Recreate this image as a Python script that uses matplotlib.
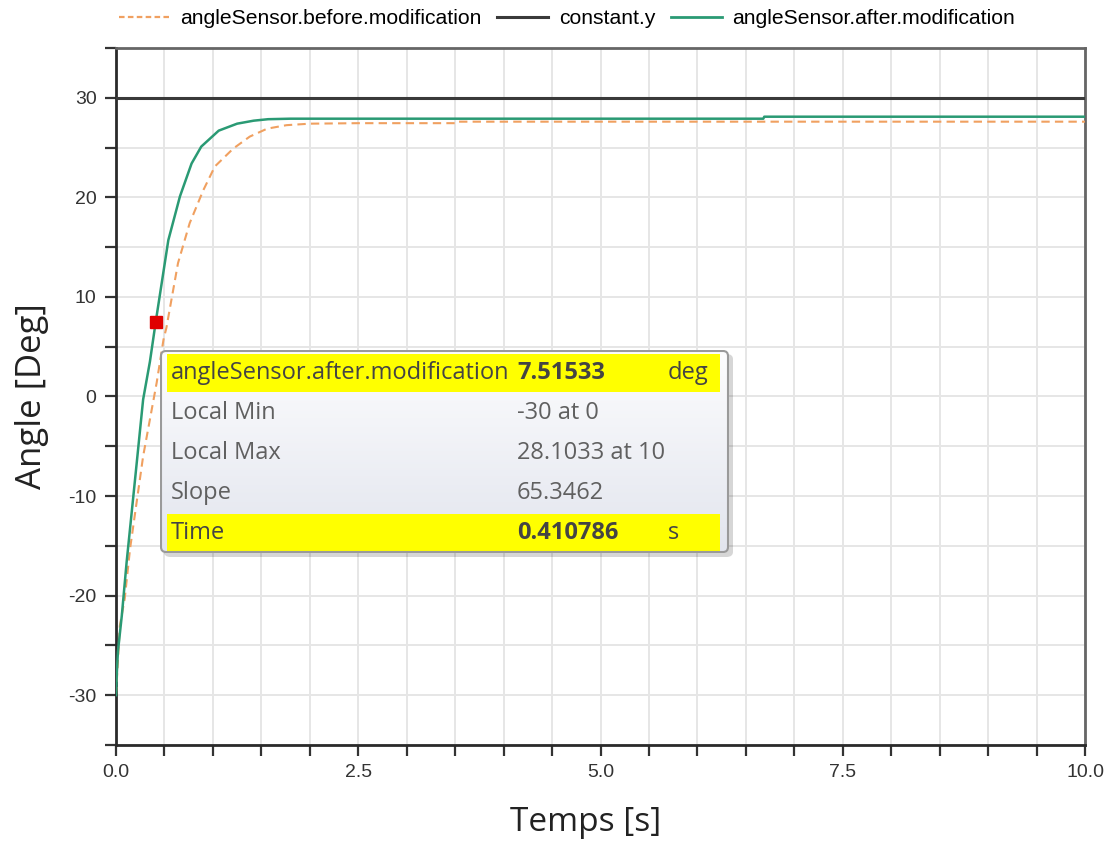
import matplotlib
matplotlib.use("Agg")
import matplotlib.pyplot as plt
import numpy as np
from matplotlib.patches import FancyBboxPatch, Rectangle
from matplotlib.lines import Line2D
from matplotlib.colors import LinearSegmentedColormap

# ---- data ----
t_before = [0, 0.04, 0.09, 0.145, 0.28, 0.42, 0.49, 0.52, 0.64, 0.76, 0.90, 1.02,
            1.21, 1.38, 1.56, 1.76, 2.0, 2.5, 3.5, 3.51, 10]
y_before = [-30, -23, -20.3, -15.3, -6, 1.4, 5.7, 6.9, 13.4, 17.4, 20.7, 23.1,
            24.9, 26.1, 26.9, 27.25, 27.4, 27.45, 27.45, 27.6, 27.6]

t_after = [0, 0.01, 0.02, 0.06, 0.11, 0.2, 0.28, 0.35, 0.41, 0.54, 0.66, 0.78,
           0.88, 1.06, 1.25, 1.42, 1.57, 1.8, 2.0, 6.68, 6.69, 10]
y_after = [-30, -27.5, -25.6, -22, -16.6, -8, -0.3, 3.5, 7.5, 15.7, 20.1, 23.4,
           25.1, 26.7, 27.4, 27.7, 27.85, 27.9, 27.9, 27.9, 28.1, 28.1]

t_const = [0, 10]
y_const = [30, 30]

marker_t = [0.410786]
marker_y = [7.51533]

legend_labels = ["angleSensor.before.modification", "constant.y", "angleSensor.after.modification"]
xtick_labels = ["0.0", "2.5", "5.0", "7.5", "10.0"]
ytick_labels = ["-30", "-20", "-10", "0", "10", "20", "30"]

tip_rows = [
    ("angleSensor.after.modification", "7.51533", "deg", True),
    ("Local Min", "-30 at 0", "", False),
    ("Local Max", "28.1033 at 10", "", False),
    ("Slope", "65.3462", "", False),
    ("Time", "0.410786", "s", True),
]

# ---- figure ----
W, H = 1111, 846
fig = plt.figure(figsize=(W / 100, H / 100), dpi=100)
fig.patch.set_facecolor("white")

def fx(px):
    return px / W

def fy(py):
    return 1 - py / H

ax = fig.add_axes([fx(116), fy(745), fx(1085) - fx(116), fy(48) - fy(745)])

c_orange = "#f0a060"
c_green = "#2a9a74"
c_const = "#3a3a3a"

ax.plot(t_before, y_before, color=c_orange, lw=1.5, ls=(0, (4, 2.5)), zorder=3)
ax.plot(t_const, y_const, color=c_const, lw=2.2, zorder=4)
ax.plot(t_after, y_after, color=c_green, lw=1.8, zorder=3)
ax.plot(marker_t, marker_y, marker="s", color="#e00000", markersize=9, ls="none", zorder=6)

ax.set_xlim(0, 10)
ax.set_ylim(-35, 35)
ax.set_xticks(np.arange(0, 10.01, 2.5))
ax.set_xticklabels(xtick_labels)
ax.set_xticks(np.arange(0, 10.01, 0.5), minor=True)
ax.set_yticks(np.arange(-30, 31, 10))
ax.set_yticklabels(ytick_labels)
ax.set_yticks(np.arange(-35, 35.01, 5), minor=True)

ax.grid(True, which="both", color="#e6e6e6", lw=1.4, zorder=0)
ax.set_axisbelow(True)

for lab in ax.get_xticklabels() + ax.get_yticklabels():
    lab.set_fontfamily("Liberation Sans")
    lab.set_fontsize(14)
    lab.set_color("#333333")
ax.tick_params(which="both", direction="out", length=8, width=1.6, color="#333333", pad=6)

for s in ["left", "bottom"]:
    ax.spines[s].set_color("#2a2a2a")
    ax.spines[s].set_linewidth(2)
for s in ["top", "right"]:
    ax.spines[s].set_color("#666666")
    ax.spines[s].set_linewidth(2)

ax.set_xlabel("Temps [s]", fontfamily="Open Sans", fontsize=24, color="#222222")
ax.xaxis.set_label_coords(0.485, -0.088)
ax.set_ylabel("Angle [Deg]", fontfamily="Open Sans", fontsize=25, color="#222222", labelpad=14)

# legend
handles = [
    Line2D([], [], color=c_orange, lw=1.6, ls=(0, (2.5, 1.5))),
    Line2D([], [], color=c_const, lw=2.2),
    Line2D([], [], color=c_green, lw=2.0),
]
fig.legend(handles, legend_labels, loc="center left", bbox_to_anchor=(fx(100), fy(19)),
           ncol=3, frameon=False, prop=dict(family="Liberation Sans", size=15.2),
           handlelength=2.4, handletextpad=0.5, columnspacing=0.75)

# tooltip
x0, y0, x1, y1 = 160, 350, 729, 553
shadow = FancyBboxPatch((fx(x0 + 4), fy(y1 + 4)), fx(x1 - x0), fy(y0) - fy(y1),
                        boxstyle="round,pad=0,rounding_size=0.006",
                        transform=fig.transFigure, facecolor="#000000", alpha=0.16,
                        edgecolor="none", zorder=10)
fig.patches.append(shadow)
tip_ax = fig.add_axes([fx(x0), fy(y1), fx(x1) - fx(x0), fy(y0) - fy(y1)], zorder=11)
tip_ax.set_xlim(x0, x1)
tip_ax.set_ylim(y1, y0)
tip_ax.axis("off")
grad = np.linspace(0, 1, 100).reshape(-1, 1)
cmap = LinearSegmentedColormap.from_list("g", ["#fdfdfe", "#e2e5ee"])
im = tip_ax.imshow(grad, extent=(x0, x1, y1, y0), cmap=cmap, aspect="auto", zorder=0)
box = FancyBboxPatch((x0 + 1, y0 + 1), x1 - x0 - 2, y1 - y0 - 2,
                     boxstyle="round,pad=0,rounding_size=5",
                     facecolor="none", edgecolor="#9a9a9a", lw=1.5, zorder=5)
tip_ax.add_patch(box)
im.set_clip_path(box)

row_y = [373, 413, 453, 493, 533]
for (lab, val, unit, hl), yy in zip(tip_rows, row_y):
    if hl:
        tip_ax.add_patch(Rectangle((167, yy - 19), 720 - 167, 38, facecolor="#ffff00",
                                   edgecolor="none", zorder=2))
    col = "#444444" if hl else "#606060"
    tip_ax.text(171, yy, lab, fontfamily="Open Sans", fontsize=17, color=col,
                va="center", ha="left", zorder=3)
    tip_ax.text(517, yy, val, fontfamily="Open Sans", fontsize=17, color=col,
                va="center", ha="left", zorder=3, fontweight="bold" if hl else "normal")
    if unit:
        tip_ax.text(668, yy, unit, fontfamily="Open Sans", fontsize=17, color=col,
                    va="center", ha="left", zorder=3)

fig.savefig("out.png", dpi=100)
